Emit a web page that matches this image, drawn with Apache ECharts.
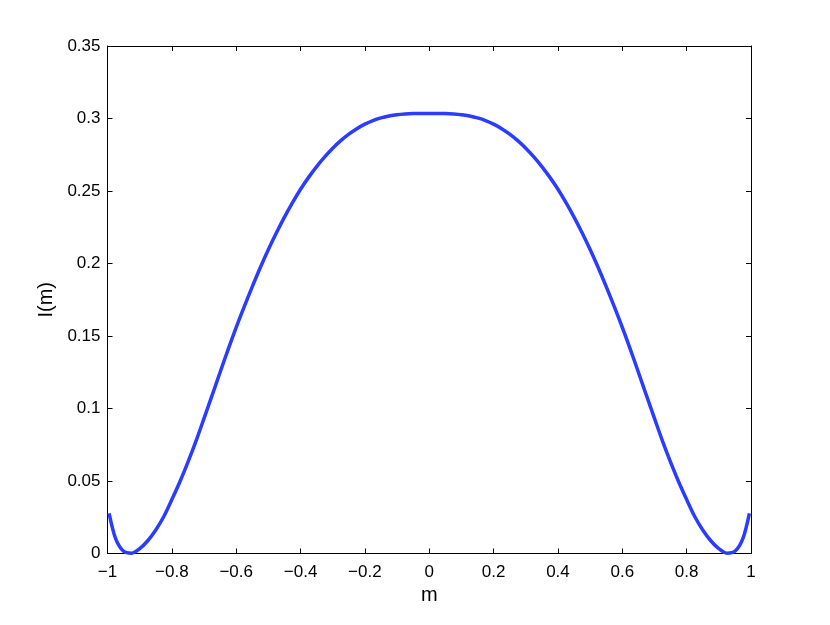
<!DOCTYPE html>
<html>
<head>
<meta charset="utf-8">
<script src="https://cdn.jsdelivr.net/npm/echarts@6/dist/echarts.min.js"></script>
<style>
  html, body { margin: 0; padding: 0; background: #fff; }
  #chart { width: 830px; height: 625px; }
</style>
</head>
<body>
<div id="chart"></div>
<script>
// m values and I(m)
const mValues = [
  -0.995, -0.975, -0.95, -0.925, -0.9, -0.875, -0.85, -0.825, -0.8, -0.775,
  -0.75, -0.725, -0.7, -0.675, -0.65, -0.625, -0.6, -0.575, -0.55, -0.525,
  -0.5, -0.475, -0.45, -0.425, -0.4, -0.375, -0.35, -0.325, -0.3, -0.275,
  -0.25, -0.225, -0.2, -0.175, -0.15, -0.125, -0.1, -0.075, -0.05, -0.025,
  0,
  0.025, 0.05, 0.075, 0.1, 0.125, 0.15, 0.175, 0.2, 0.225, 0.25,
  0.275, 0.3, 0.325, 0.35, 0.375, 0.4, 0.425, 0.45, 0.475, 0.5,
  0.525, 0.55, 0.575, 0.6, 0.625, 0.65, 0.675, 0.7, 0.725, 0.75,
  0.775, 0.8, 0.825, 0.85, 0.875, 0.9, 0.925, 0.95, 0.975, 0.995
];
const iValues = [
  0.0277, 0.0105, 0.0015, 0.0002, 0.0033, 0.0088, 0.0162, 0.0255, 0.0372, 0.0495,
  0.0630, 0.0775, 0.0932, 0.1090, 0.1250, 0.1408, 0.1560, 0.1703, 0.1840, 0.1972,
  0.2096, 0.2212, 0.2320, 0.2420, 0.2512, 0.2594, 0.2668, 0.2735, 0.2795, 0.2847,
  0.2892, 0.2930, 0.2961, 0.2986, 0.3004, 0.3017, 0.3026, 0.3031, 0.3034, 0.3035,
  0.3035,
  0.3035, 0.3034, 0.3031, 0.3026, 0.3017, 0.3004, 0.2986, 0.2961, 0.2930, 0.2892,
  0.2847, 0.2795, 0.2735, 0.2668, 0.2594, 0.2512, 0.2420, 0.2320, 0.2212, 0.2096,
  0.1972, 0.1840, 0.1703, 0.1560, 0.1408, 0.1250, 0.1090, 0.0932, 0.0775, 0.0630,
  0.0495, 0.0372, 0.0255, 0.0162, 0.0088, 0.0033, 0.0002, 0.0015, 0.0105, 0.0277
];
const xTicks = [-1, -0.8, -0.6, -0.4, -0.2, 0, 0.2, 0.4, 0.6, 0.8, 1];
const yTicks = [0, 0.05, 0.1, 0.15, 0.2, 0.25, 0.3, 0.35];

const font = 'Liberation Sans, Arial, Helvetica, sans-serif';
const minus = v => String(v).replace('-', '\u2212');
const nearest = (v, ticks) => ticks.reduce((a, b) => Math.abs(b - v) < Math.abs(a - v) ? b : a);

const chart = echarts.init(document.getElementById('chart'), null, { renderer: 'canvas' });

const boxLine = { show: true, onZero: false, lineStyle: { color: '#000', width: 1 } };
const inTick = { show: true, inside: true, length: 5, lineStyle: { color: '#000', width: 1 } };

chart.setOption({
  animation: false,
  backgroundColor: '#fff',
  grid: { left: 107.5, right: 79, top: 46, bottom: 71.5, containLabel: false },
  xAxis: [
    {
      type: 'value', min: -1, max: 1, interval: 0.2,
      name: 'm', nameLocation: 'middle', nameGap: 32,
      nameTextStyle: { fontFamily: font, fontSize: 20, color: '#000' },
      axisLine: boxLine, axisTick: inTick, splitLine: { show: false },
      axisLabel: { fontFamily: font, fontSize: 17, color: '#000', margin: 10,
        formatter: v => minus(nearest(v, xTicks)) }
    },
    {
      type: 'value', position: 'top', min: -1, max: 1, interval: 0.2,
      axisLine: boxLine, axisTick: inTick, axisLabel: { show: false }, splitLine: { show: false }
    }
  ],
  yAxis: [
    {
      type: 'value', min: 0, max: 0.35, interval: 0.05,
      name: 'I(m)', nameLocation: 'middle', nameGap: 50, nameRotate: 90,
      nameTextStyle: { fontFamily: font, fontSize: 20, color: '#000' },
      axisLine: boxLine, axisTick: inTick, splitLine: { show: false },
      axisLabel: { fontFamily: font, fontSize: 17, color: '#000', margin: 7,
        formatter: v => String(nearest(v, yTicks)) }
    },
    {
      type: 'value', position: 'right', min: 0, max: 0.35, interval: 0.05,
      axisLine: boxLine, axisTick: inTick, axisLabel: { show: false }, splitLine: { show: false }
    }
  ],
  series: [{
    type: 'line',
    data: mValues.map((m, i) => [m, iValues[i]]),
    smooth: 0.3,
    showSymbol: false,
    lineStyle: { color: '#2a3cff', width: 3.5 }
  }]
});
</script>
</body>
</html>
